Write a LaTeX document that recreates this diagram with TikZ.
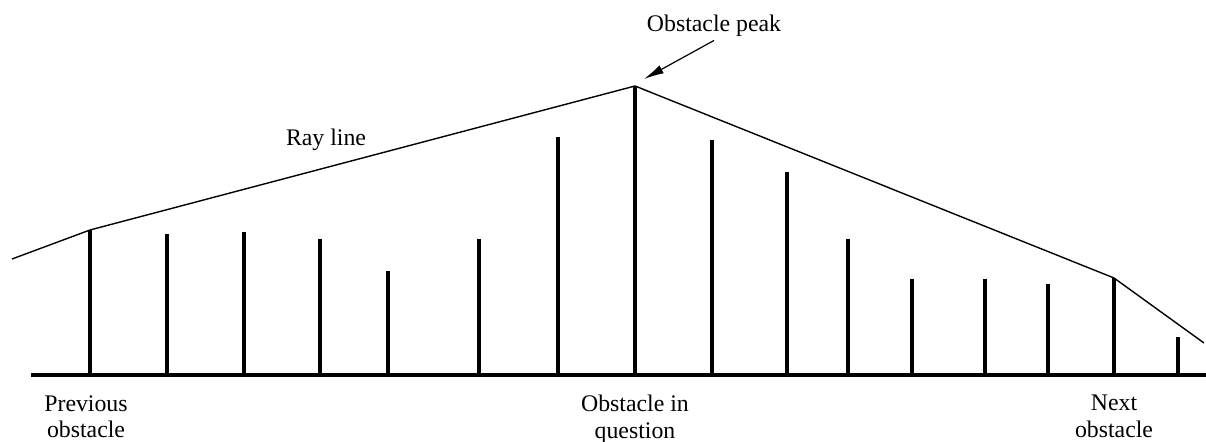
\documentclass[tikz,border=0pt]{standalone}
\usepackage{fontspec}
\setmainfont{Liberation Serif}
\usetikzlibrary{arrows.meta}

\begin{document}
\begin{tikzpicture}[
  x=0.5pt,y=-0.5pt,
  font=\fontsize{11.9}{13.4}\selectfont,
  ground/.style={line width=2.1pt},
  bar/.style={line width=2pt},
  ray/.style={line width=0.7pt},
  lbl/.style={align=center,inner sep=0pt},
  pointer/.style={-{Latex[length=10pt,width=4.5pt]},line width=0.6pt}
]
\useasboundingbox (0,0) rectangle (1206,442);

% ground level
\draw[ground] (31,375) -- (1206,375);

% obstacles (x / top)
\foreach \x/\h in {90/230,167/234,244/232,320/239,388/271,479/239,558/137,
                   635/86,712/140,787/172,848/239,912/279,985/279,1048/284,
                   1114/278,1178/337}
  \draw[bar] (\x,375) -- (\x,\h);

% ray line
\coordinate (start) at (12,259);
\coordinate (prev)  at (90,230);
\coordinate (peak)  at (635,86);
\coordinate (next)  at (1114,278);
\coordinate (end)   at (1204,343);
\draw[ray] (start) -- (prev) -- (peak) -- (next) -- (end);

\node[lbl,anchor=base] (raylbl) at (326,146) {Ray line};

% peak pointer
\node[lbl,anchor=base,inner sep=1.5pt] (peaklbl) at (714,32) {Obstacle peak};
\coordinate (tip) at (644,79);
\draw[pointer] (peaklbl.south) -- (tip);

% obstacle labels
\node[lbl,anchor=north] (prevlbl)  at (86,395)   {Previous\\obstacle};
\node[lbl,anchor=north] (questlbl) at (635,395)  {Obstacle in\\question};
\node[lbl,anchor=north] (nextlbl)  at (1114,395) {Next\\obstacle};

\end{tikzpicture}
\end{document}
